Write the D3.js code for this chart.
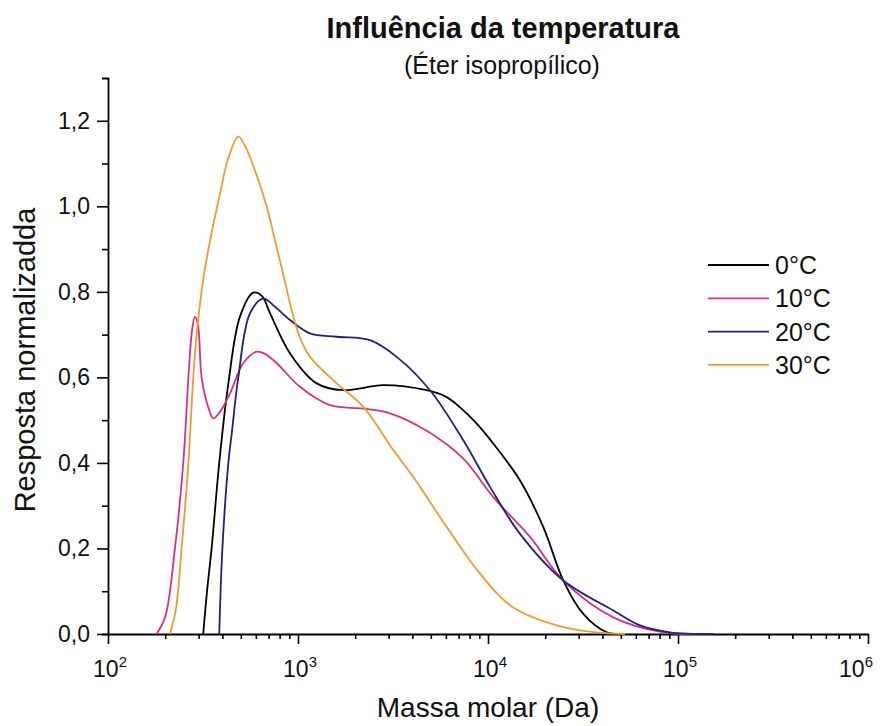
<!DOCTYPE html>
<html>
<head>
<meta charset="utf-8">
<script src="https://cdn.jsdelivr.net/npm/d3@7"></script>
<style>
  html, body { margin: 0; padding: 0; background: #fff; }
  svg { display: block; font-family: "Liberation Sans", Arial, sans-serif; }
</style>
</head>
<body>
<svg id="chart" width="885" height="726"></svg>
<script>
// ---------------- DATA ----------------
const seriesNames = ["0°C", "10°C", "20°C", "30°C"];

// Black (0 °C)
const mass0 = [317, 332, 351, 385, 430, 495, 582, 647, 712, 908, 1254, 1731, 2811, 4757, 6000, 7124, 8600, 10245, 14740, 19550, 24910, 31740, 42140, 52610];
const resp0 = [0, 0.10, 0.20, 0.40, 0.586, 0.742, 0.798, 0.79, 0.75, 0.656, 0.586, 0.570, 0.582, 0.570, 0.555, 0.530, 0.495, 0.455, 0.359, 0.25, 0.125, 0.047, 0.004, 0];

// Magenta (10 °C)
const mass10 = [180, 200, 225, 249, 265, 277, 287, 298, 311, 337, 358, 389, 439, 515, 606, 670, 773, 1024, 1474, 2207, 3050, 4757, 7413, 10660, 16640, 24910, 45650, 83680, 130600];
const resp10 = [0, 0.04, 0.20, 0.40, 0.60, 0.71, 0.742, 0.72, 0.60, 0.53, 0.504, 0.52, 0.563, 0.633, 0.66, 0.655, 0.633, 0.578, 0.535, 0.527, 0.516, 0.475, 0.41, 0.32, 0.227, 0.125, 0.039, 0.004, 0];

// Navy (20 °C)
const mass20 = [385, 400, 430, 448, 485, 559, 657, 757, 908, 1157, 1599, 2392, 3307, 4952, 7413, 10245, 14740, 24910, 45650, 63100, 90780, 152900];
const resp20 = [0, 0.20, 0.40, 0.469, 0.60, 0.75, 0.784, 0.765, 0.734, 0.703, 0.695, 0.687, 0.648, 0.57, 0.453, 0.344, 0.234, 0.125, 0.055, 0.02, 0.004, 0];

// Orange (30 °C)
const mass30 = [212, 228, 244, 265, 281, 293, 320, 351, 389, 428, 485, 537, 582, 631, 684, 757, 837, 945, 1030, 1157, 1599, 2207, 3174, 4046, 6062, 9078, 13590, 24910, 37340, 52610];
const resp30 = [0, 0.06, 0.20, 0.40, 0.60, 0.703, 0.84, 0.938, 1.03, 1.11, 1.163, 1.133, 1.094, 1.05, 1.0, 0.92, 0.84, 0.742, 0.69, 0.648, 0.586, 0.531, 0.43, 0.367, 0.25, 0.141, 0.062, 0.016, 0.004, 0];

const xMajorTicks = [1e2, 1e3, 1e4, 1e5, 1e6];
const xExponents = ["2", "3", "4", "5", "6"];
const yMajorTicks = [0, 0.2, 0.4, 0.6, 0.8, 1.0, 1.2];
const yMinorTicks = [0.1, 0.3, 0.5, 0.7, 0.9, 1.1];

const titleText = "Influência da temperatura";
const subtitleText = "(Éter isopropílico)";
const xLabel = "Massa molar (Da)";
const yLabel = "Resposta normalizadda";

// ---------------- DRAW ----------------
const colors = ["#000000", "#dc2f86", "#22227a", "#f39a2c"];
const series = [
  { name: seriesNames[0], m: mass0, r: resp0, color: colors[0] },
  { name: seriesNames[1], m: mass10, r: resp10, color: colors[1] },
  { name: seriesNames[2], m: mass20, r: resp20, color: colors[2] },
  { name: seriesNames[3], m: mass30, r: resp30, color: colors[3] }
];

const svg = d3.select("#chart");
const x = d3.scaleLog().domain([1e2, 1e6]).range([108, 868]);
const y = d3.scaleLinear().domain([0, 1.3]).range([634, 78]);

// minor x ticks
const xMinor = [];
for (let k = 2; k <= 5; k++) for (let j = 2; j <= 9; j++) xMinor.push(j * Math.pow(10, k));

const gx = svg.append("g").attr("transform", `translate(0,${y(0)})`);
gx.call(d3.axisBottom(x).tickValues(xMajorTicks).tickSize(10).tickSizeOuter(0).tickFormat(""));
svg.append("g").attr("transform", `translate(0,${y(0)})`)
  .call(d3.axisBottom(x).tickValues(xMinor).tickSize(5).tickSizeOuter(0).tickFormat(""))
  .select(".domain").remove();

// x tick labels with superscripts
const xl = svg.append("g");
xMajorTicks.forEach((v, i) => {
  const t = xl.append("text")
    .attr("x", x(v) + (i === xMajorTicks.length - 1 ? -12 : 2))
    .attr("y", 677)
    .attr("text-anchor", "middle")
    .attr("font-size", 23)
    .attr("fill", "#111");
  t.append("tspan").text("10");
  t.append("tspan").attr("font-size", 15).attr("dy", -10).text(xExponents[i]);
});

const gy = svg.append("g").attr("transform", `translate(${x(1e2)},0)`);
gy.call(d3.axisLeft(y).tickValues(yMajorTicks).tickSize(11).tickSizeOuter(6).tickPadding(7)
  .tickFormat(d => d3.format(".1f")(d).replace(".", ",")));
svg.append("g").attr("transform", `translate(${x(1e2)},0)`)
  .call(d3.axisLeft(y).tickValues(yMinorTicks).tickSize(6).tickFormat(""))
  .select(".domain").remove();

svg.selectAll(".domain").attr("stroke", "#000").attr("stroke-width", 1.8);
svg.selectAll(".tick line").attr("stroke", "#000").attr("stroke-width", 1.6);
gy.selectAll(".tick text").attr("font-size", 23).attr("fill", "#111")
  .attr("font-family", "'Liberation Sans', Arial, sans-serif");

// lines
const line = d3.line()
  .x(d => x(d[0]))
  .y(d => y(Math.max(0, d[1])))
  .curve(d3.curveCatmullRom.alpha(0.5));

series.forEach(s => {
  svg.append("path")
    .datum(s.m.map((mv, i) => [mv, s.r[i]]))
    .attr("fill", "none")
    .attr("stroke", s.color)
    .attr("stroke-width", 1.8)
    .attr("stroke-linejoin", "round")
    .attr("d", line);
});

// legend
const legend = svg.append("g");
series.forEach((s, i) => {
  const yy = 265 + i * 33.3;
  legend.append("line").attr("x1", 708).attr("x2", 769).attr("y1", yy).attr("y2", yy)
    .attr("stroke", s.color).attr("stroke-width", 1.8);
  legend.append("text").attr("x", 775).attr("y", yy + 9).attr("font-size", 25)
    .attr("fill", "#111").text(s.name);
});

// titles
svg.append("text").attr("x", 503).attr("y", 38).attr("text-anchor", "middle")
  .attr("font-size", 29).attr("font-weight", "bold").attr("fill", "#111").text(titleText);
svg.append("text").attr("x", 502).attr("y", 74).attr("text-anchor", "middle")
  .attr("font-size", 25).attr("fill", "#111").text(subtitleText);
svg.append("text").attr("x", 488).attr("y", 717).attr("text-anchor", "middle")
  .attr("font-size", 28).attr("fill", "#111").text(xLabel);
svg.append("text").attr("transform", "translate(35,360) rotate(-90)").attr("text-anchor", "middle")
  .attr("font-size", 29).attr("fill", "#111").text(yLabel);
</script>
</body>
</html>
